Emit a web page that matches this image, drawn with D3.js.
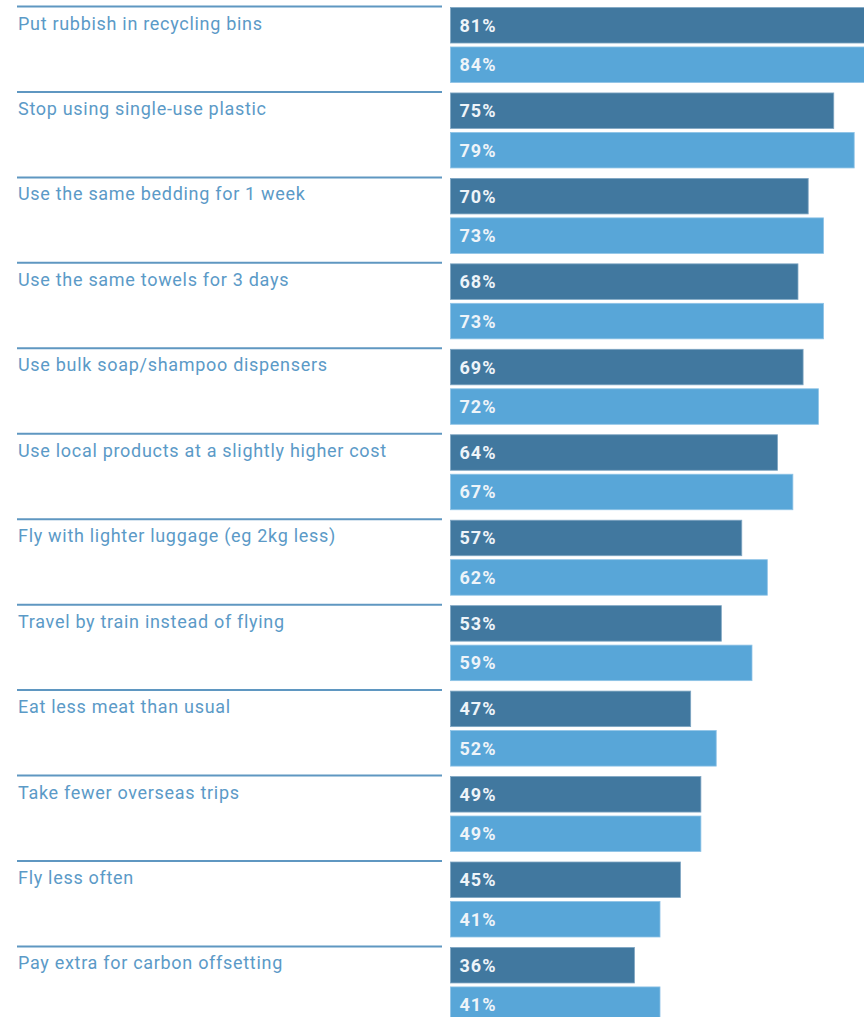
<!DOCTYPE html>
<html>
<head>
  <meta charset="utf-8">
  <title>Sustainable travel actions</title>
  <script src="https://d3js.org/d3.v7.min.js"></script>
  <style>
    html, body { margin: 0; padding: 0; background: #fff; }
    text { font-family: Roboto, "DejaVu Sans", sans-serif; }
    .label { fill: #5b9ac7; font-size: 18px; letter-spacing: 0.7px; }
    .pct { fill: #eef4f9; font-size: 18px; font-weight: bold; letter-spacing: 1px; }
  </style>
</head>
<body>
  <div id="chart"></div>
  <script>
    // data
    const categories = [
      "Put rubbish in recycling bins",
      "Stop using single-use plastic",
      "Use the same bedding for 1 week",
      "Use the same towels for 3 days",
      "Use bulk soap/shampoo dispensers",
      "Use local products at a slightly higher cost",
      "Fly with lighter luggage (eg 2kg less)",
      "Travel by train instead of flying",
      "Eat less meat than usual",
      "Take fewer overseas trips",
      "Fly less often",
      "Pay extra for carbon offsetting"
    ];
    const darkValues = [81, 75, 70, 68, 69, 64, 57, 53, 47, 49, 45, 36];
    const lightValues = [84, 79, 73, 73, 72, 67, 62, 59, 52, 49, 41, 41];
    const seriesKeys = ["dark", "light"];

    const width = 864, height = 1017;

    const svg = d3.select("#chart")
      .append("svg")
      .attr("width", width)
      .attr("height", height);

    const rows = categories.map((c, i) => ({
      name: c,
      values: [
        { key: "dark", value: darkValues[i] },
        { key: "light", value: lightValues[i] }
      ]
    }));

    // scales
    const y = d3.scaleBand().domain(categories).range([6.5, 6.5 + 12 * 85.45]).padding(0);
    const ySub = d3.scaleBand().domain(seriesKeys).range([1, 76]).paddingInner(0.1);
    const x = d3.scaleLinear().domain([0, 100]).range([450.5, 961.5]);
    const color = d3.scaleOrdinal().domain(seriesKeys).range(["#41789f", "#58a6d8"]);

    const g = svg.selectAll("g.row")
      .data(rows)
      .enter()
      .append("g")
      .attr("class", "row")
      .attr("transform", d => "translate(0," + y(d.name) + ")");

    // separator line above each group
    g.append("line")
      .attr("x1", 17)
      .attr("x2", 442)
      .attr("y1", 0)
      .attr("y2", 0)
      .attr("stroke", "#5f97c1")
      .attr("stroke-width", 2);

    g.append("text")
      .attr("class", "label")
      .attr("x", 18)
      .attr("y", 23)
      .text(d => d.name);

    const bars = g.selectAll("g.bar")
      .data(d => d.values)
      .enter()
      .append("g")
      .attr("class", "bar");

    bars.append("rect")
      .attr("x", x(0))
      .attr("y", d => ySub(d.key))
      .attr("width", d => x(d.value) - x(0))
      .attr("height", ySub.bandwidth())
      .attr("fill", d => color(d.key))
      .attr("stroke", d => d.key === "dark" ? "#7fa6c3" : "#8ec3e6")
      .attr("stroke-width", 0.8);

    bars.append("text")
      .attr("class", "pct")
      .attr("x", x(0) + 9)
      .attr("y", d => ySub(d.key) + ySub.bandwidth() / 2 + 6.5)
      .text(d => d.value + "%");
  </script>
</body>
</html>
